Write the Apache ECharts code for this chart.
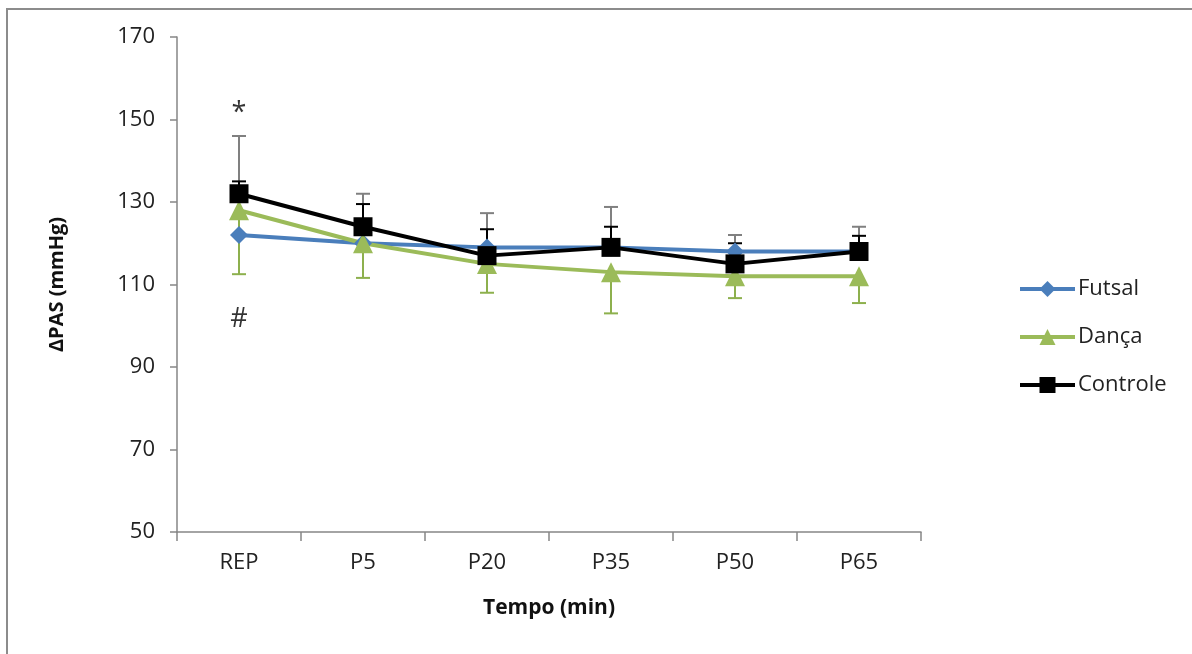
<!DOCTYPE html>
<html>
<head>
<meta charset="utf-8">
<script src="https://cdn.jsdelivr.net/npm/echarts@6/dist/echarts.min.js"></script>
<style>
	html, body { margin: 0; padding: 0; background: #fff; }
	#chart { width: 1192px; height: 654px; }
</style>
</head>
<body>
<div id="chart"></div>
<script>
const categories = ['REP', 'P5', 'P20', 'P35', 'P50', 'P65'];
const yTicks = [50, 70, 90, 110, 130, 150, 170];

const futsal = [122, 120, 119, 119, 118, 118];
const danca = [128, 120, 115, 113, 112, 112];
const controle = [132, 124, 117, 119, 115, 118];

// error bar ends
const futsalHigh = [146, 132, 127.3, 128.8, 122, 124];
const controleHigh = [135, 129.5, 123.4, 124, 120, 121.8];
const dancaLow = [112.5, 111.6, 108, 103, 106.7, 105.5];

const marks = [
	{ cat: 'REP', value: 151.5, text: '*' },
	{ cat: 'REP', value: 101.5, text: '#' }
];

const FONT = '"Open Sans", "Noto Sans", sans-serif';

const errorSeries = (name, base, ends, color) => ({
	type: 'custom',
	name: name,
	z: 1,
	silent: true,
	data: base.map((v, i) => [i, v, ends[i]]),
	renderItem: (params, api) => {
		const a = api.coord([api.value(0), api.value(1)]);
		const b = api.coord([api.value(0), api.value(2)]);
		const w = 7;
		const style = { stroke: color, lineWidth: 2 };
		return {
			type: 'group',
			children: [
				{ type: 'line', shape: { x1: a[0], y1: a[1], x2: b[0], y2: b[1] }, style: style },
				{ type: 'line', shape: { x1: b[0] - w, y1: b[1], x2: b[0] + w, y2: b[1] }, style: style }
			]
		};
	}
});

const lineSeries = (name, data, color, symbol, size) => ({
	type: 'line',
	name: name,
	data: data,
	z: 3,
	symbol: symbol,
	symbolSize: size,
	showAllSymbol: true,
	itemStyle: { color: color },
	lineStyle: { color: color, width: 4 }
});

const chart = echarts.init(document.getElementById('chart'));

chart.setOption({
	animation: false,
	textStyle: { fontFamily: FONT },
	graphic: [
		{
			type: 'rect',
			shape: { x: 7, y: 9, width: 1300, height: 800 },
			style: { fill: 'none', stroke: '#8c8c8c', lineWidth: 2 }
		}
	],
	grid: { left: 177, right: 271, top: 37, bottom: 122 },
	legend: {
		orient: 'vertical',
		left: 1013,
		top: 273,
		itemGap: 26,
		itemWidth: 55,
		itemHeight: 20,
		lineStyle: { width: 4 },
		textStyle: { fontFamily: FONT, fontSize: 22, color: '#222', padding: [0, 0, 0, -2] },
		data: ['Futsal', 'Dança', 'Controle']
	},
	xAxis: {
		type: 'category',
		data: categories,
		name: 'Tempo (min)',
		nameLocation: 'middle',
		nameGap: 66,
		nameTextStyle: { fontFamily: FONT, fontSize: 21, fontWeight: 'bold', color: '#111' },
		axisLine: { lineStyle: { color: '#868686', width: 1.5 } },
		axisTick: { show: true, length: 9, lineStyle: { color: '#868686', width: 1.5 } },
		axisLabel: { fontFamily: FONT, fontSize: 22, color: '#222', margin: 20 },
		splitLine: { show: false }
	},
	yAxis: {
		type: 'value',
		min: yTicks[0],
		max: yTicks[yTicks.length - 1],
		interval: 20,
		name: 'ΔPAS (mmHg)',
		nameLocation: 'middle',
		nameGap: 110,
		nameRotate: 90,
		nameTextStyle: { fontFamily: FONT, fontSize: 20, fontWeight: 'bold', color: '#111' },
		axisLine: { show: true, lineStyle: { color: '#868686', width: 1.5 } },
		axisTick: { show: true, inside: false, length: 7, lineStyle: { color: '#868686', width: 1.5 } },
		axisLabel: { fontFamily: FONT, fontSize: 22, color: '#222', margin: 22 },
		splitLine: { show: false }
	},
	series: [
		errorSeries('futsalErr', futsal, futsalHigh, '#808080'),
		errorSeries('dancaErr', danca, dancaLow, '#8db04d'),
		errorSeries('controleErr', controle, controleHigh, '#000'),
		lineSeries('Futsal', futsal, '#4a7ebb', 'diamond', 18),
		lineSeries('Dança', danca, '#9bbb59', 'triangle', 20),
		lineSeries('Controle', controle, '#000000', 'rect', 19),
		{
			type: 'scatter',
			name: 'marks',
			symbolSize: 0,
			silent: true,
			data: marks.map(m => [m.cat, m.value, m.text]),
			label: {
				show: true,
				position: 'inside',
				formatter: p => p.data[2],
				fontFamily: FONT,
				fontSize: 27,
				color: '#000'
			}
		}
	]
});
</script>
</body>
</html>
